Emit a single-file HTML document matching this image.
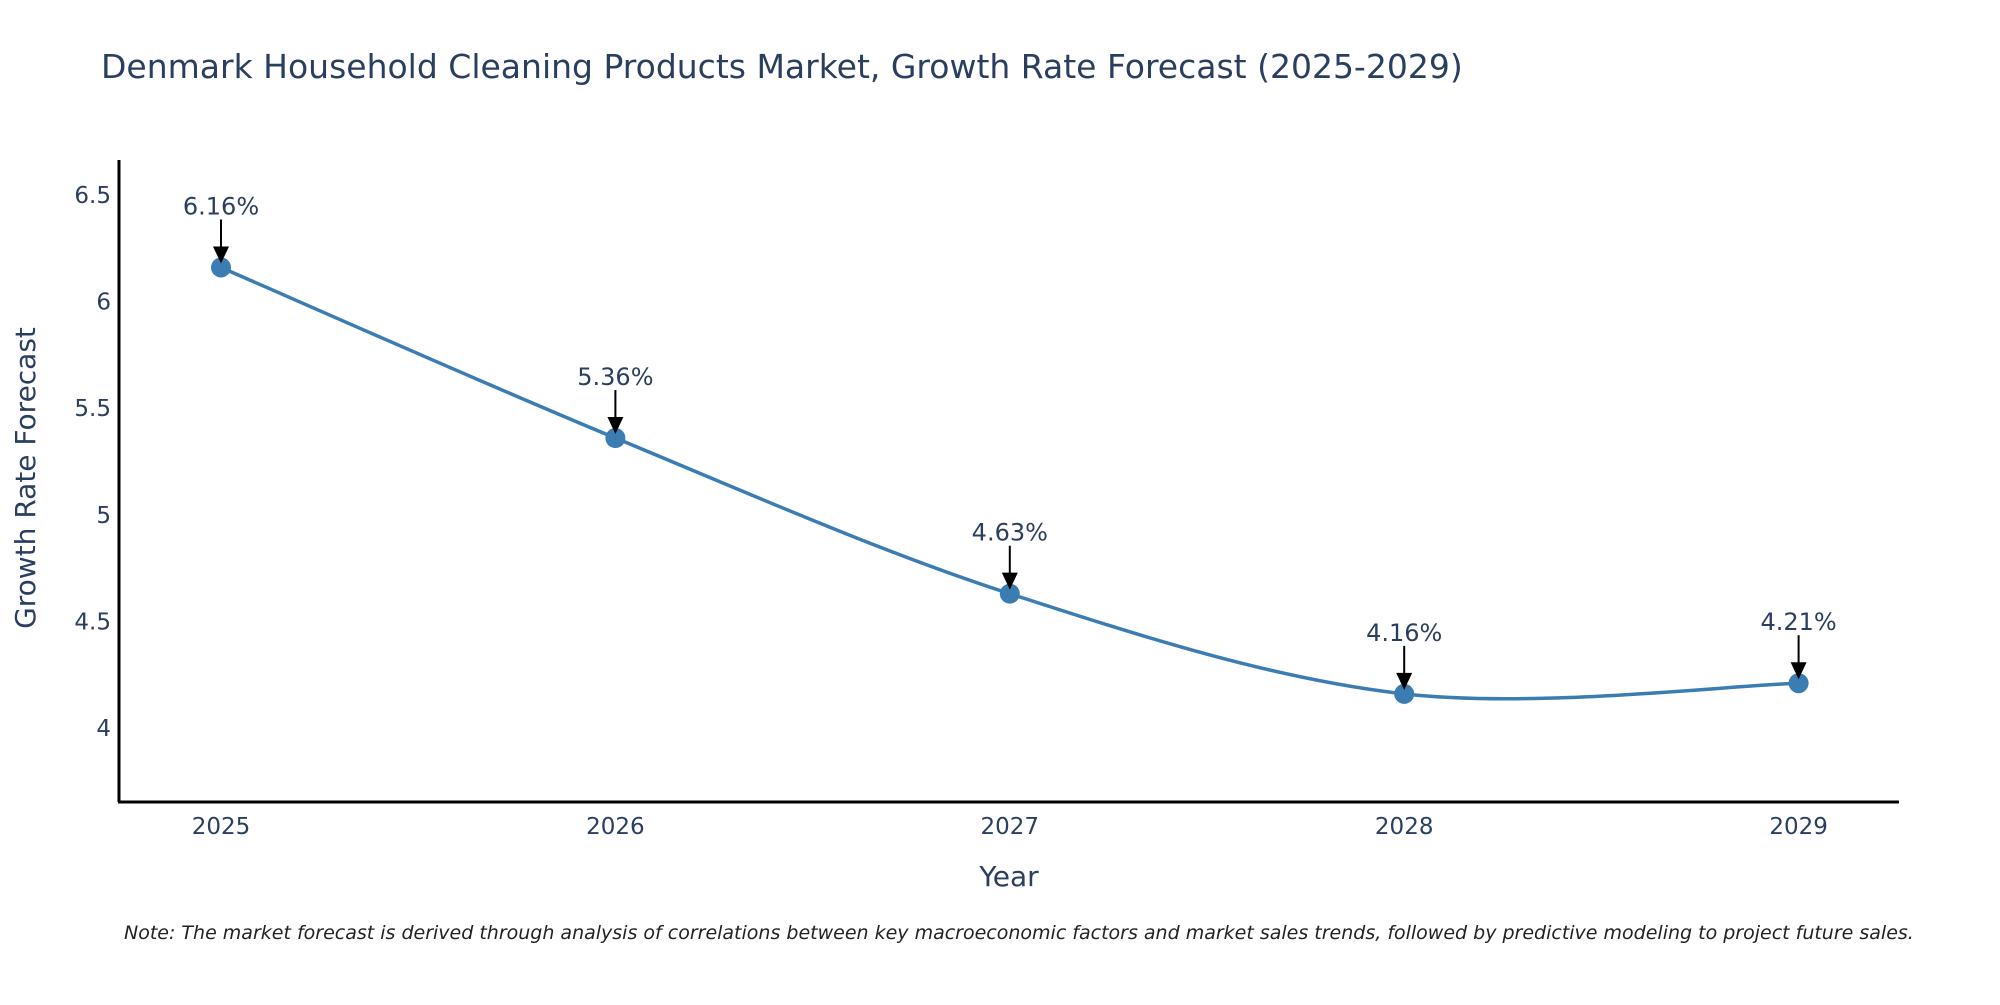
<!DOCTYPE html>
<html><head><meta charset="utf-8"><style>
body{margin:0;background:#fff;width:2000px;height:1000px;overflow:hidden}
svg text{font-family:"DejaVu Sans","Liberation Sans",sans-serif;fill:#2a3f5f}
</style></head><body>
<svg id="chart" width="2000" height="1000" xmlns="http://www.w3.org/2000/svg">
<text x="101" y="78" font-size="33">Denmark Household Cleaning Products Market, Growth Rate Forecast (2025-2029)</text>
<g id="yticks"></g>
<g id="xticks"></g>
<line x1="119" y1="160" x2="119" y2="802" stroke="#000" stroke-width="3"/>
<line x1="118" y1="802" x2="1899" y2="802" stroke="#000" stroke-width="3"/>
<path id="line" fill="none" stroke="#3b7db3" stroke-width="3.5"/>
<g id="points"></g>
<g id="annots"></g>
<text transform="translate(35,478) rotate(-90)" text-anchor="middle" font-size="28">Growth Rate Forecast</text>
<text x="1009" y="886" text-anchor="middle" font-size="28">Year</text>
<text x="124" y="939" font-size="19" font-style="italic" style="fill:#222">Note: The market forecast is derived through analysis of correlations between key macroeconomic factors and market sales trends, followed by predictive modeling to project future sales.</text>
</svg>
<script>
const years=[2025,2026,2027,2028,2029];
const values=[6.16,5.36,4.63,4.16,4.21];
const labels=["6.16%","5.36%","4.63%","4.16%","4.21%"];
const yTicks=[4,4.5,5,5.5,6,6.5];
const yTickLabels=["4","4.5","5","5.5","6","6.5"];
const NS="http://www.w3.org/2000/svg";
const X=v=>221+(v-2025)*394.4;
const Y=v=>195+(6.5-v)*213.2;
function mk(t,a,p){const e=document.createElementNS(NS,t);for(const k in a)e.setAttribute(k,a[k]);p.appendChild(e);return e;}
const yt=document.getElementById('yticks');
yTicks.forEach((v,i)=>{const t=mk('text',{x:111,y:Y(v)+8,'text-anchor':'end','font-size':23},yt);


t.textContent=yTickLabels[i];});
const xt=document.getElementById('xticks');
years.forEach(v=>{const t=mk('text',{x:X(v),y:834,'text-anchor':'middle','font-size':23},xt);


t.textContent=v;});
const P=years.map((y,i)=>[X(y),Y(values[i])]);
let d='M'+P[0][0]+','+P[0][1];
const s=1/6;
for(let i=0;i<P.length-1;i++){const p0=P[Math.max(0,i-1)],p1=P[i],p2=P[i+1],p3=P[Math.min(P.length-1,i+2)];
d+=' C'+(p1[0]+(p2[0]-p0[0])*s)+','+(p1[1]+(p2[1]-p0[1])*s)+' '+(p2[0]-(p3[0]-p1[0])*s)+','+(p2[1]-(p3[1]-p1[1])*s)+' '+p2[0]+','+p2[1];}
document.getElementById('line').setAttribute('d',d);
const pg=document.getElementById('points'),ag=document.getElementById('annots');
P.forEach((p,i)=>{const c=mk('circle',{cx:p[0],cy:p[1],r:10,fill:'#3b7db3'},pg);


const l=mk('line',{x1:p[0],y1:p[1]-48,x2:p[0],y2:p[1]-16,stroke:'#000','stroke-width':2},ag);


const h=mk('polygon',{points:(p[0]-8)+','+(p[1]-21)+' '+(p[0]+8)+','+(p[1]-21)+' '+p[0]+','+(p[1]-4),fill:'#000'},ag);


const t=mk('text',{x:p[0],y:p[1]-53,'text-anchor':'middle','font-size':24},ag);


t.textContent=labels[i];});
</script>
</body></html>
